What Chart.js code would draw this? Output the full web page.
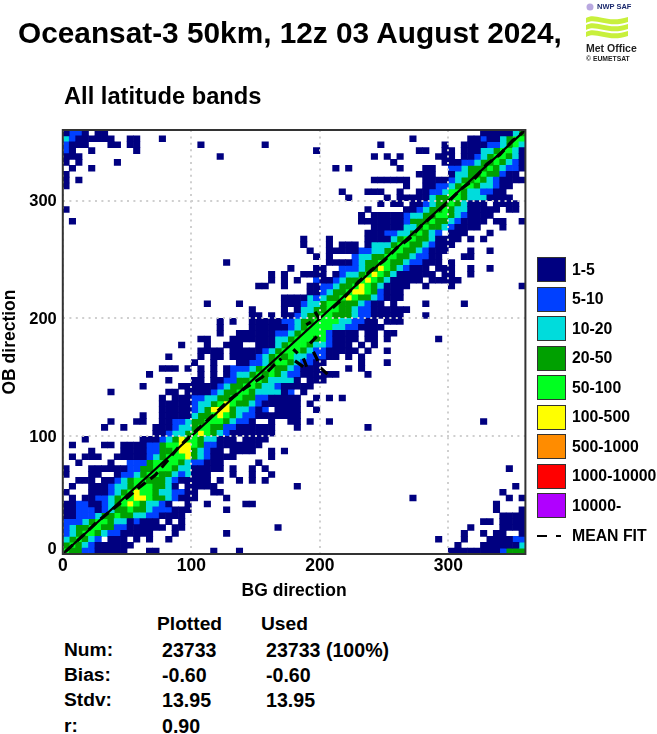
<!DOCTYPE html>
<html>
<head>
<meta charset="utf-8">
<title>Oceansat-3 50km</title>
<script src="https://cdn.jsdelivr.net/npm/chart.js@4"></script>
<style>
  body { margin: 0; background: #fff; font-family: "Liberation Sans", Arial, sans-serif; font-weight: bold; color: #000; }
  #page { position: relative; width: 657px; height: 734px; overflow: hidden; }
  #page div { position: absolute; white-space: nowrap; }
  canvas { position: absolute; left: 0; top: 0; }
  svg { position: absolute; }
</style>
</head>
<body>
<div id="page">
  <canvas id="oceansatChart" width="657" height="610"></canvas>
  <div id="chartTitle" style="left:18px;top:15px;font-size:29.8px;line-height:36px;">Oceansat-3 50km, 12z 03 August 2024,</div>
  <div id="bandTitle" style="left:64px;top:82px;font-size:23.7px;line-height:28px;">All latitude bands</div>
  <svg style="left:584px;top:2px" width="46" height="44" viewBox="0 0 46 44">
    <circle cx="6" cy="5" r="3.5" fill="#b9a8e0"/>
    <path d="M2 16 C12 10 22 22 44 15 L44 20 C24 27 12 15 2 21 Z" fill="#c8f03c"/>
    <path d="M2 23 C12 17 24 29 44 22 L44 27 C24 34 12 22 2 28 Z" fill="#c8f03c"/>
    <path d="M2 30 C12 24 24 36 44 29 L44 34 C24 41 12 29 2 35 Z" fill="#c8f03c"/>
  </svg>
  <div style="left:597px;top:2px;font-size:7.5px;line-height:10px;color:#1c2a6e;">NWP SAF</div>
  <div style="left:586px;top:42px;font-size:10.5px;line-height:12px;color:#222;">Met Office</div>
  <div style="left:586px;top:54px;font-size:6.8px;line-height:9px;color:#222;">© EUMETSAT</div>
</div>
<script>
// 5 degree bins, rows from the top (OB 360) down, "startColumn:classes", 0 = no obs in that bin
var binRows = [
  "0:1221011 65:1111134",
  "0:32111111 10:11 15:1 54:1 63:112113455",
  "0:2111 7:11 10:11 21:1 31:1 49:1 59:1 62:1111223453",
  "0:21 4:1 11:1 39:1 55:11 59:11 62:1113345531",
  "0:111 24:1 48:1 50:1 52:1 58:111 62:1123455431",
  "0:101 8:1 51:1 59:1112234454321",
  "1:1 4:1 42:1 44:1 52:1 56:11 60:223444543221",
  "0:1 55:111 60:13344544211",
  "0:101 48:111111 56:1111234454321111",
  "0:1 53:1 56:11223455433211",
  "43:1 47:111 52:1 55:11223554332211",
  "44:1 50:1 52:111113445543331111",
  "49:1 51:11 54:11234454311101111",
  "0:1 47:1 53:112344543311111011",
  "46:1 48:11111 53:23344554321111",
  "1:1 46:11111112444544321111 67:11 71:1",
  "48:11111334544321111 68:1",
  "47:1112233454320111 66:1",
  "37:1 41:1 47:111134554431111 63:1 65:1",
  "37:1 41:1 43:111 47:13334554432111",
  "38:1 41:11111 46:22334554432111 63:1 66:1",
  "39:1 41:1 45:23344554432211 62:11",
  "25:1 41:111123445544322111 60:1",
  "35:1 39:11 43:222344654321110111 63:1 66:1",
  "32:1 34:1 37:111101233456543111111 59:11 63:1",
  "32:1 34:1 36:1 39:21123445654311111011111",
  "30:11 34:1 38:1122344565431111 56:1 60:1 71:1",
  "38:112344566542111",
  "34:1111323445654432111",
  "22:1 27:1 34:111233455444321101 56:1 62:1",
  "29:1 34:1 36:133445544322111111",
  "29:11 32:1 34:1123445544432211111 56:1",
  "24:1 26:1 29:111112234455553322110111",
  "24:1 29:111111234555533221111",
  "24:1 27:1111112234555521111 47:11 50:11",
  "21:11 26:11111113345554521111 47:11 50:1 58:1",
  "18:1 22:1 25:111001113455543321110101",
  "21:111101111123455543221111101 50:1",
  "16:1 21:1 23:11 26:11112345453322211 44:1 46:1",
  "20:1 23:1 27:11223455432211 46:1 50:1",
  "15:111 19:1 21:1 23:1 25:122234554432111 44:1 46:1",
  "13:1 21:1 23:1 25:123345454322111111 47:1",
  "16:1 20:11 23:112244554333310111",
  "12:1 18:111111234455433211111",
  "7:1 16:1101111234455433331201",
  "15:1 17:11122334455442211111 39:1 41:1 43:1",
  "15:1111123345654432111111 38:1",
  "15:1111123466643321201111 39:1",
  "12:1 15:1111134456543221111111",
  "7:1 11:11 15:11 17:2234455543221 32:1 35:11 38:1 41:1 65:1",
  "6:1 9:1 14:1112334554422111111 36:1 47:1",
  "14:1123345654321111111",
  "3:1 12:11123465543311101111",
  "1:1 6:11 9:111 12:1224556654221111111",
  "4:1 9:111122445664321101111 32:1 34:1",
  "1:1 3:111 8:1111123455564321111 32:1",
  "2:1 7:1 10:222455554322111 30:1",
  "0:1 4:11111122445554331111101 29:1 31:1 69:1",
  "0:1 4:11 8:122345544323111 26:1 29:1 32:1",
  "2:111011234554443211111 24:1 27:1 29:1 31:1",
  "1:1 4:1112334555443101111 23:1 36:1 70:1",
  "0:1 4:11123456554332211 23:11 68:1",
  "1:1 3:112234556654432111 25:1 54:1 69:1 71:1",
  "0:11221123456543321001 22:1 28:11 67:1",
  "0:11222123445443222111 25:1 67:1 71:1",
  "0:1122234454433221111 68:1111",
  "0:2223455433121110101 65:11 68:1111",
  "0:2344554422111111011 33:1 63:1 68:1111",
  "0:23455432211111 17:1 25:1 62:1 65:1 67:11 71:1",
  "0:345432011101 13:1 16:1 58:1 62:1 66:1111 70:22",
  "0:45432111111 61:1 65:1111113",
  "0:5442211111 13:11 23:1 27:1 60:11111111 68:2 69:444"
];

var legendLabels = ["1-5", "5-10", "10-20", "20-50", "50-100", "100-500", "500-1000", "1000-10000", "10000-"];
var legendColours = ["#000080", "#0040ff", "#00dcdc", "#00a000", "#00ff20", "#ffff00", "#ff8c00", "#ff0000", "#b000ff"];

var diagonalX = [0, 360];
var diagonalY = [0, 360];

// null breaks the fit, round 180-205 it is only short strokes away from the diagonal
var meanFitX = [2, 16, 26, 37, 51, 60, 72, 82, 90, 100, 111, 121, 131, 142, 155, 164, 170, null,
    179.4, 182.8, null, 192.4, 197.6, null, 189.5, 193, null, 196.3, 200.2, null,
    180.7, 187.2, null, 187.2, 189.8, null, 195, 198.9, null, 200.2, 206.6, null,
    210, 220, 230, 240, 250, 260, 270, 280, 290, 300, 310, 320, 330, 340, 350, 358];
var meanFitY = [2, 16, 26.5, 36.5, 48.5, 57, 67, 80, 90.5, 101, 112, 122, 132, 141, 150, 160, 166, null,
    173.8, 170.4, null, 178.9, 184.5, null, 194.5, 197, null, 205.7, 198.6, null,
    164, 159, null, 166.1, 159, null, 171.7, 163.2, null, 158.5, 152, null,
    209, 219, 231, 241, 249, 260, 268, 280, 289, 299, 310, 318, 331, 339, 351, 358];

var statHead = ["Plotted", "Used"];
var statNames = ["Num:", "Bias:", "Stdv:", "r:"];
var statPlotted = ["23733", "-0.60", "13.95", "0.90"];
var statUsed = ["23733 (100%)", "-0.60", "13.95", ""];

var binSize = 5;
var nRows = 72;

function class_data(classNo) {
    var items = [];
    var row = 0;
    while (row < binRows.length) {
        var parts = binRows[row].split(" ");
        for (var i = 0; i < parts.length; i++) {
            var cut = parts[i].split(":");
            var start = Number(cut[0]);
            for (var j = 0; j < cut[1].length; j++) {
                if (Number(cut[1][j]) == classNo) {
                    var top = (nRows - row) * binSize;
                    items.push({"x": (start + j + 0.5) * binSize, "y": [top - binSize, top]});
                }
            }
        }
        row = row + 1;
    }
    return items;
}

function line_data(xs, ys) {
    var items = [];
    for (var i = 0; i < xs.length; i++) {
        items.push({"x": xs[i], "y": ys[i]});
    }
    return items;
}

var datasets = [
    {
        type: 'line',
        label: "Diagonal",
        data: line_data(diagonalX, diagonalY),
        borderColor: '#000',
        borderWidth: 2.2,
        pointRadius: 0,
        order: 0
    },
    {
        type: 'line',
        label: "MEAN FIT",
        data: line_data(meanFitX, meanFitY),
        borderColor: '#000',
        borderWidth: 3.2,
        borderDash: [10, 6],
        pointRadius: 0,
        spanGaps: false,
        order: 0
    }
];
for (var k = 0; k < legendLabels.length; k++) {
    datasets.push({
        label: legendLabels[k],
        data: class_data(k + 1),
        backgroundColor: legendColours[k],
        borderWidth: 0,
        barThickness: 6.43,
        grouped: false,
        order: 1
    });
}

var frame_plugin = {
    id: 'frame',
    afterDraw: function (chart) {
        var a = chart.chartArea;
        chart.ctx.save();
        chart.ctx.strokeStyle = '#333';
        chart.ctx.lineWidth = 2;
        chart.ctx.strokeRect(a.left, a.top, a.right - a.left, a.bottom - a.top);
        chart.ctx.restore();
    }
};

var xTickFont = { family: '"Liberation Sans"', weight: 'bold', size: 17.5, lineHeight: 0.7 };
var yTickFont = { family: '"Liberation Sans"', weight: 'bold', size: 16.5, lineHeight: 0.7 };
var axisFont = { family: '"Liberation Sans"', weight: 'bold', size: 17.5 };
var gridLine = {
    z: 1,
    offset: false,
    drawTicks: false,
    lineWidth: 2,
    color: '#cfcfcf'
};

new Chart(document.getElementById("oceansatChart").getContext('2d'), {
    type: 'bar',
    data: { datasets: datasets },
    plugins: [frame_plugin],
    options: {
        responsive: false,
        animation: false,
        events: [],
        layout: { padding: { left: 0, top: 130, right: 131.6, bottom: 8 } },
        plugins: {
            legend: { display: false },
            tooltip: { enabled: false }
        },
        scales: {
            x: {
                type: 'linear',
                offset: false,
                min: 0,
                max: 360,
                afterFit: function (scale) { scale.height = 48; },
                grid: gridLine,
                border: { display: false, dash: [2, 4.4] },
                ticks: { stepSize: 100, includeBounds: false, maxRotation: 0, padding: 6, color: '#000', font: xTickFont },
                title: { display: true, text: 'BG direction', color: '#000', font: axisFont, padding: { top: 0, bottom: 0 } }
            },
            y: {
                type: 'linear',
                min: 0,
                max: 360,
                afterFit: function (scale) { scale.width = 62.8; },
                grid: gridLine,
                border: { display: false, dash: [2, 4.4] },
                ticks: {
                    stepSize: 100,
                    includeBounds: false,
                    padding: 6,
                    labelOffset: 1,
                    color: '#000',
                    font: yTickFont,
                    // the 0 sits a little above the corner
                    callback: function (value) { return value == 0 ? ['0', ''] : String(value); }
                },
                title: { display: true, text: 'OB direction', color: '#000', font: axisFont, padding: 0 }
            }
        }
    }
});

var page = document.getElementById("page");
function add_text(text, left, top, size) {
    var el = document.createElement("div");
    el.textContent = text;
    el.style.left = left + "px";
    el.style.top = top + "px";
    el.style.fontSize = size + "px";
    el.style.lineHeight = "20px";
    page.appendChild(el);
    return el;
}

// legend
for (var n = 0; n < legendLabels.length; n++) {
    var box = document.createElement("div");
    box.style.cssText = "left:537px;width:27px;height:23px;border:1.5px solid #333;top:" + (257 + n * 29.55) + "px;background:" + legendColours[n];
    page.appendChild(box);
    add_text(legendLabels[n], 572, 259.5 + n * 29.55, 15.8);
}
var dash1 = document.createElement("div");
dash1.style.cssText = "left:537px;top:535px;width:10px;height:2px;background:#000";
page.appendChild(dash1);
var dash2 = document.createElement("div");
dash2.style.cssText = "left:556px;top:535px;width:5px;height:2px;background:#000";
page.appendChild(dash2);
add_text("MEAN FIT", 572, 526, 15.8);

// stats block
add_text(statHead[0], 157, 614, 19.2);
add_text(statHead[1], 261, 614, 19.2);
for (var s = 0; s < statNames.length; s++) {
    var rowTop = 640 + s * 25.2;
    add_text(statNames[s], 64, rowTop, 19.2);
    add_text(statPlotted[s], 162, rowTop, 19.6);
    if (statUsed[s]) add_text(statUsed[s], 266, rowTop, 19.6);
}
</script>
</body>
</html>
